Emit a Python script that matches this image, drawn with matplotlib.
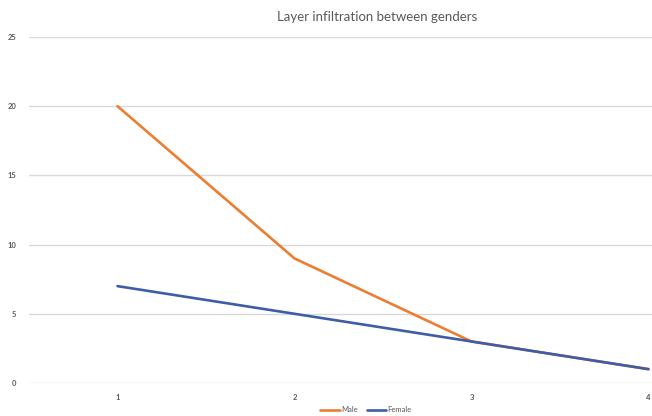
import matplotlib
matplotlib.use('Agg')
import matplotlib.pyplot as plt

# Values per category
categories = [1, 2, 3, 4]
male = [20, 9, 3, 1]
female = [7, 5, 3, 1]
y_ticks = [0, 5, 10, 15, 20, 25]

plt.rcParams['font.family'] = ['Lato', 'DejaVu Sans']

fig = plt.figure(figsize=(6.52, 4.16), dpi=100)
# The plot area runs past the right edge of the figure
ax = fig.add_axes([29 / 652, 33 / 416, 708 / 652, 346 / 416])

ax.plot(categories, male, color='#ED7D31', linewidth=1.9, label='Male', solid_capstyle='round')
ax.plot(categories, female, color='#3E5DA6', linewidth=1.9, label='Female', solid_capstyle='round')

ax.set_xlim(0.5, 4.5)
ax.set_ylim(0, 25)
ax.set_xticks(categories)
ax.set_yticks(y_ticks)
ax.grid(axis='y', color='#d9d9d9', linewidth=1)
ax.set_axisbelow(True)
for s in ax.spines.values():
    s.set_visible(False)
ax.tick_params(length=0, labelsize=5.5, labelcolor='#595959')
ax.tick_params(axis='y', pad=9)
ax.tick_params(axis='x', pad=8)
for lbl in ax.get_xticklabels() + ax.get_yticklabels():
    lbl.set_fontweight('bold')

fig.text(377 / 652, 1 - 17 / 416, 'Layer infiltration between genders',
         ha='center', va='center', fontsize=9.5, color='#595959')

fig.legend(loc='center', bbox_to_anchor=(366 / 652, 1 - 410 / 416), ncol=2,
           frameon=False, fontsize=5.5, handlelength=2.5, handletextpad=0.2,
           columnspacing=1.2, labelcolor='#595959')

fig.savefig('out.png', dpi=100)
